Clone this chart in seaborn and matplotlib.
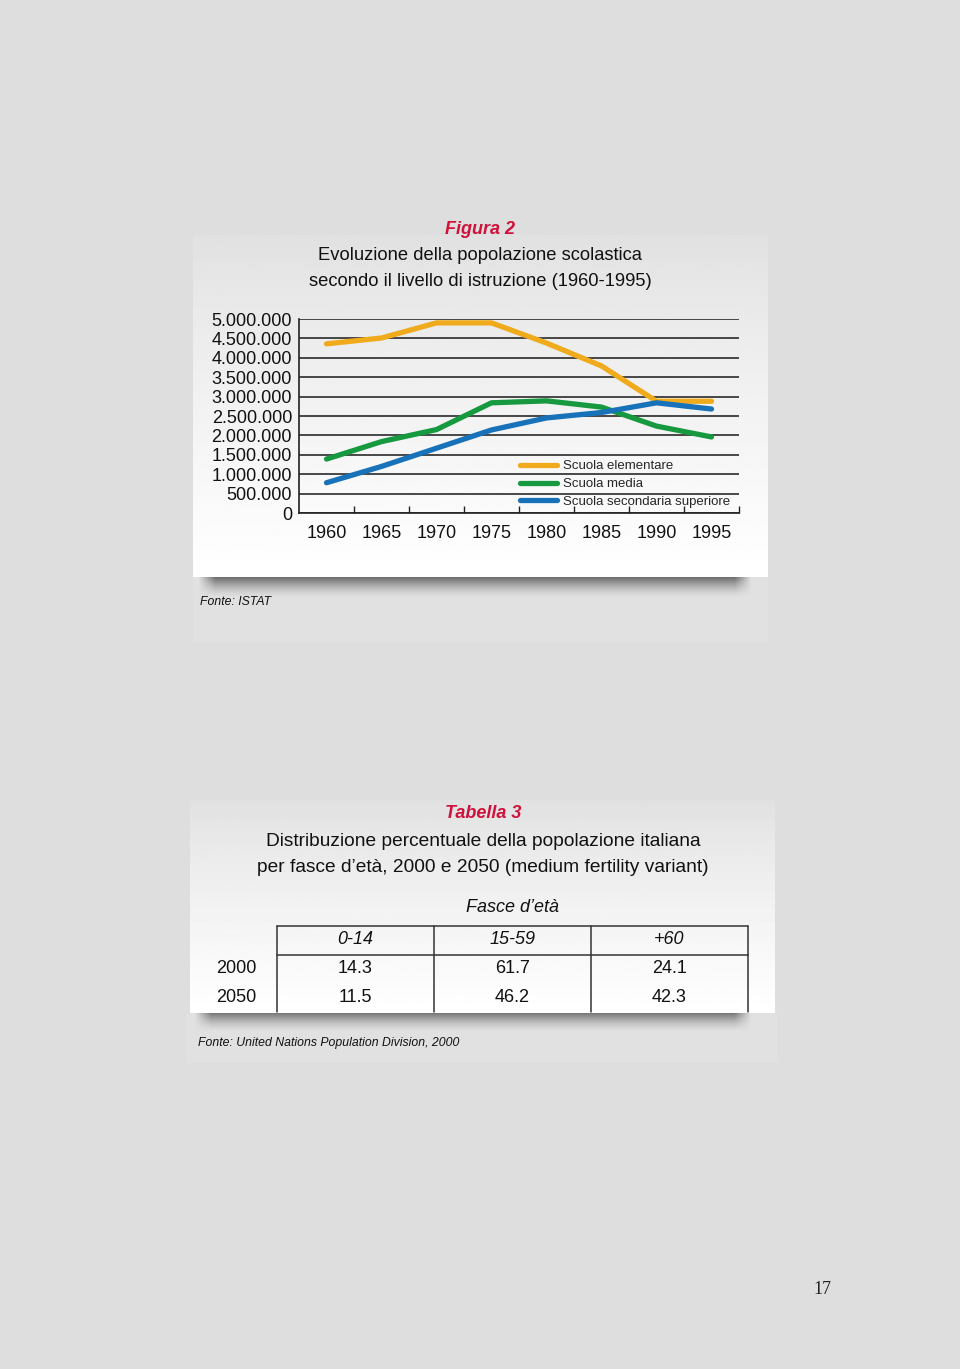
import numpy as np
import pandas as pd
import seaborn as sns
import matplotlib.pyplot as plt
from matplotlib.ticker import FuncFormatter, FixedLocator

sns.set_theme(style="white")
plt.rcParams["font.family"] = ["Liberation Sans", "DejaVu Sans"]

# --- data: Figura 2 (scholastic population, millions) ---
anni = [1960, 1965, 1970, 1975, 1980, 1985, 1990, 1995]
elementare = [4.36, 4.51, 4.90, 4.90, 4.38, 3.79, 2.88, 2.88]
media = [1.39, 1.84, 2.15, 2.84, 2.89, 2.73, 2.24, 1.96]
secondaria = [0.78, 1.20, 1.67, 2.14, 2.45, 2.59, 2.84, 2.68]
livelli = ["Scuola elementare", "Scuola media", "Scuola secondaria superiore"]
colori = ["#f0ab1c", "#17993f", "#1872b9"]
y_ticks = [0, 500000, 1000000, 1500000, 2000000, 2500000,
           3000000, 3500000, 4000000, 4500000, 5000000]

# --- data: Tabella 3 ---
fasce = ["0-14", "15-59", "+60"]
anni_tab = ["2000", "2050"]
valori_2000 = [14.3, 61.7, 24.1]
valori_2050 = [11.5, 46.2, 42.3]

W, H = 960, 1369
RED = "#d0123b"
INK = "#111111"


def rect(x0, y0, x1, y1):
    return [x0 / W, 1 - y1 / H, (x1 - x0) / W, (y1 - y0) / H]


def panel(ax, x0, y0, x1, y1, top=0.88):
    g = np.linspace(0, 1, 200) ** 0.8
    col = top + (1 - top) * g
    img = np.repeat(col[:, None], 2, axis=1)
    ax.imshow(img, cmap="gray", vmin=0, vmax=1, extent=(x0, x1, y1, y0),
              origin="upper", aspect="auto", interpolation="bilinear", zorder=2)


def shadow(ax, x0, y0, x1, y1):
    h, w = 60, 400
    yy = np.linspace(0, 1, h)
    xx = np.linspace(0, 1, w)
    fy = np.clip((1 - yy) / 0.55, 0, 1) ** 1.5
    fx = np.clip(np.minimum(xx, 1 - xx) / 0.03, 0, 1)
    a = np.outer(fy, fx) * 0.92
    rgba = np.zeros((h, w, 4))
    rgba[..., :3] = 0.38
    rgba[..., 3] = a
    ax.imshow(rgba, extent=(x0, x1, y1, y0), origin="upper", aspect="auto",
              interpolation="bilinear", zorder=1)


fig = plt.figure(figsize=(W / 100, H / 100), dpi=100)
fig.patch.set_facecolor("#dedede")

bg = fig.add_axes([0, 0, 1, 1])
bg.set_zorder(0)
bg.axis("off")

# panels, shadows and faint boxes
bg.add_patch(plt.Rectangle((193, 577), 575, 65, color="#e1e1e1", lw=0, zorder=0.5))
bg.add_patch(plt.Rectangle((187, 1013), 590, 50, color="#e1e1e1", lw=0, zorder=0.5))
shadow(bg, 198, 560, 752, 598)
panel(bg, 193, 235, 768, 577)
shadow(bg, 194, 995, 752, 1032)
panel(bg, 190, 800, 775, 1013)
bg.set_xlim(0, W)
bg.set_ylim(H, 0)

# titles
bg.text(480, 229, "Figura 2", color=RED, fontsize=13, fontweight="bold",
        style="italic", ha="center", va="center", zorder=5)
bg.text(480, 256, "Evoluzione della popolazione scolastica", fontsize=13.2,
        ha="center", va="center", color=INK, zorder=5)
bg.text(480, 282, "secondo il livello di istruzione (1960-1995)", fontsize=13.2,
        ha="center", va="center", color=INK, zorder=5)
bg.text(200, 602, "Fonte: ISTAT", fontsize=8.8, style="italic", ha="left",
        va="center", color=INK, zorder=5)

bg.text(483, 814, "Tabella 3", color=RED, fontsize=13, fontweight="bold",
        style="italic", ha="center", va="center", zorder=5)
bg.text(483, 841, "Distribuzione percentuale della popolazione italiana",
        fontsize=13.8, ha="center", va="center", color=INK, zorder=5)
bg.text(483, 867, "per fasce d\u2019et\u00e0, 2000 e 2050 (medium fertility variant)",
        fontsize=13.8, ha="center", va="center", color=INK, zorder=5)
bg.text(512, 907, "Fasce d\u2019et\u00e0", fontsize=13, style="italic",
        ha="center", va="center", color=INK, zorder=5)
bg.text(198, 1043, "Fonte: United Nations Population Division, 2000",
        fontsize=8.8, style="italic", ha="left", va="center",
        color=INK, zorder=5)
bg.text(822, 1290, "17", fontsize=13, family="Liberation Serif",
        ha="center", va="center", color="#222222", zorder=5)

# --- line chart ---
df = pd.DataFrame({
    "anno": anni * 3,
    "valore": np.array(elementare + media + secondaria) * 1e6,
    "livello": np.repeat(livelli, len(anni)),
})

ax = fig.add_axes(rect(299, 319, 739, 513))
ax.set_zorder(3)
ax.patch.set_alpha(0)
sns.lineplot(data=df, x="anno", y="valore", hue="livello", hue_order=livelli,
             palette=colori, lw=3.8, ax=ax, solid_capstyle="round")

ax.set_xlim(1957.5, 1997.5)
ax.set_ylim(0, 5000000)
ax.set_xticks(anni)
ax.set_xticklabels([str(a) for a in anni])
ax.xaxis.set_minor_locator(FixedLocator([a + 2.5 for a in anni]))
ax.tick_params(axis="x", which="major", length=0, pad=9, labelsize=13,
               labelcolor=INK)
ax.tick_params(axis="x", which="minor", direction="in", length=5, width=1,
               color="#222222", bottom=True)
ax.set_yticks(y_ticks)
ax.yaxis.set_major_formatter(FuncFormatter(lambda v, p: f"{int(v):,}".replace(",", ".")))
ax.tick_params(axis="y", length=0, pad=5, labelsize=13, labelcolor=INK)
ax.grid(axis="y", color="#2a2a2a", lw=1.2)
ax.grid(axis="x", visible=False)
ax.set_axisbelow(True)
for s in ["top", "right"]:
    ax.spines[s].set_visible(False)
for s in ["left", "bottom"]:
    ax.spines[s].set_color("#222222")
    ax.spines[s].set_linewidth(1.2)
ax.set_xlabel("")
ax.set_ylabel("")
for ln in ax.get_lines():
    ln.set_clip_on(False)

handles, labels = ax.get_legend_handles_labels()
leg = ax.legend(handles, labels, loc="upper left", bbox_to_anchor=(0.502, 0.272),
                frameon=False, fontsize=9.5, handlelength=2.8, handletextpad=0.45,
                labelspacing=0.42, borderpad=0, borderaxespad=0)
for lh in leg.get_lines():
    lh.set_linewidth(3.8)

# --- table ---
tb = fig.add_axes(rect(277, 926, 748, 1012))
tb.set_zorder(3)
tb.patch.set_alpha(0)
tb.axis("off")
tb.set_xlim(-0.5, 2.5)
tb.set_ylim(2.5, -0.5)
righe = [valori_2000, valori_2050]
for j, f in enumerate(fasce):
    tb.text(j, -0.02, f, ha="center", va="center", fontsize=13, style="italic",
            color=INK)
for i, (lab, vals) in enumerate(zip(anni_tab, righe), start=1):
    tb.text(-0.76, i - 0.02, lab, ha="center", va="center", fontsize=13,
            color=INK, clip_on=False)
    for j, v in enumerate(vals):
        tb.text(j, i - 0.02, f"{v:.1f}", ha="center", va="center", fontsize=13,
                color=INK)
for xv in [-0.5, 0.5, 1.5, 2.5]:
    tb.plot([xv, xv], [-0.5, 2.5], color="#333333", lw=1.1, clip_on=False)
for yv in [-0.5, 0.5]:
    tb.plot([-0.5, 2.5], [yv, yv], color="#333333", lw=1.1, clip_on=False)

fig.savefig("out.png", dpi=100)
